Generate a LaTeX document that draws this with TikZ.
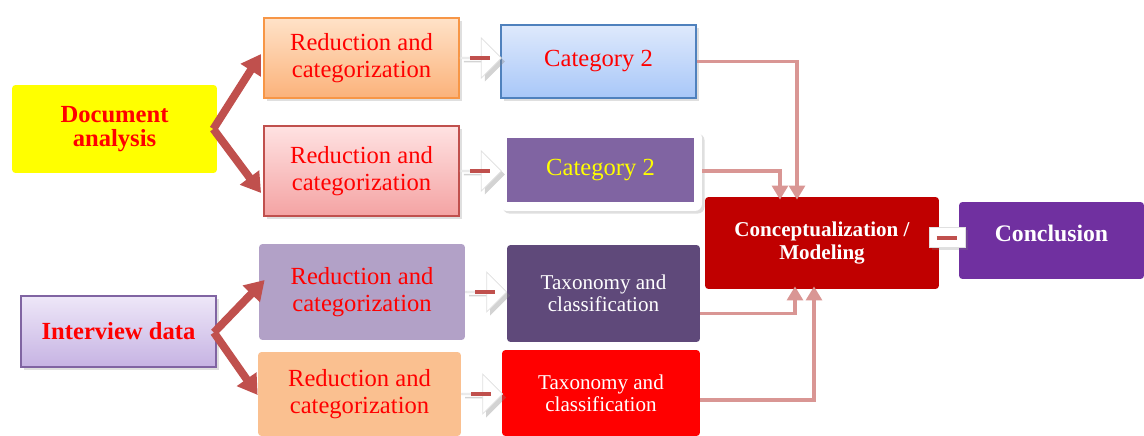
\documentclass[tikz,border=0pt]{standalone}
\usepackage{fontspec}
\setmainfont{Liberation Serif}
\usetikzlibrary{calc, shapes.arrows, arrows.meta, shadows}

\definecolor{arrowred}{HTML}{C0504D}
\definecolor{feedpink}{HTML}{D99694}
\definecolor{docyellow}{HTML}{FFFF00}
\definecolor{inttop}{HTML}{EEE7F8}
\definecolor{intbot}{HTML}{C6B3E3}
\definecolor{intborder}{HTML}{8064A2}
\definecolor{orangetop}{HTML}{FFE2C8}
\definecolor{orangebot}{HTML}{FBB27A}
\definecolor{orangeborder}{HTML}{F79646}
\definecolor{pinktop}{HTML}{FFE2E2}
\definecolor{pinkbot}{HTML}{F4A3A3}
\definecolor{blueborder}{HTML}{4F81BD}
\definecolor{bluetop}{HTML}{DEE9FC}
\definecolor{bluebot}{HTML}{A8C7F8}
\definecolor{lilac}{HTML}{B2A1C7}
\definecolor{apricot}{HTML}{FAC090}
\definecolor{violet}{HTML}{8064A2}
\definecolor{plum}{HTML}{5F497A}
\definecolor{conceptred}{HTML}{C00000}
\definecolor{conclpurple}{HTML}{7030A0}

\begin{document}
\begin{tikzpicture}[x=0.02cm, y=-0.02cm,
        redtext/.style={text=red, align=center, font=\fontsize{14}{15.5}\selectfont},
        whitetext/.style={text=white, align=center, font=\fontsize{12}{12.5}\selectfont},
        srcbox/.style={text=red, align=center, font=\fontsize{14}{14}\selectfont\bfseries},
        boxshadow/.style={drop shadow={opacity=0.25, shadow xshift=1.5pt, shadow yshift=-1.5pt}},
        bigarrow/.style={draw=arrowred, line width=4.5pt, -{Triangle[length=11pt, width=13pt]}},
        feedline/.style={draw=feedpink, line width=2.2pt, -{Triangle[length=8pt, width=9pt]}},
        blockarrow/.style={single arrow, fill=white, draw=black!12, line width=0.4pt,
            drop shadow={opacity=0.35, shadow xshift=2pt, shadow yshift=-2pt},
            inner sep=0pt, minimum height=0.82cm, minimum width=0.8cm,
            single arrow head extend=0.18cm, anchor=tail},
        dashmark/.style={draw=arrowred, line width=2.2pt}
    ]
        \useasboundingbox (0,0) rectangle (1144,436);

        % sources
        \node[srcbox, fill=docyellow, rounded corners=2pt, minimum width=4.1cm, minimum height=1.76cm]
            (doc) at (114.5,129) {Document\\analysis};
        \node[srcbox, draw=intborder, line width=1.1pt, top color=inttop, bottom color=intbot, boxshadow,
            minimum width=3.9cm, minimum height=1.42cm] (inter) at (118.5,331.5) {Interview data};

        % reduction
        \node[redtext, draw=orangeborder, line width=1.1pt, top color=orangetop, bottom color=orangebot,
            boxshadow, minimum width=3.9cm, minimum height=1.6cm] (r1) at (361.5,58) {Reduction and\\categorization};
        \node[redtext, draw=arrowred, line width=1.1pt, top color=pinktop, bottom color=pinkbot,
            boxshadow, minimum width=3.9cm, minimum height=1.8cm] (r2) at (361.5,171) {Reduction and\\categorization};
        \node[redtext, fill=lilac, rounded corners=2pt, minimum width=4.12cm, minimum height=1.92cm]
            (r3) at (362,292) {Reduction and\\categorization};
        \node[redtext, fill=apricot, rounded corners=2pt, minimum width=4.06cm, minimum height=1.68cm]
            (r4) at (359.5,394) {Reduction and\\categorization};

        % categories
        \node[redtext, draw=blueborder, line width=1.1pt, top color=bluetop, bottom color=bluebot,
            boxshadow, minimum width=3.9cm, minimum height=1.46cm] (c1) at (598.5,61.5) {Category 2};
        \node[fill=white, rounded corners=4pt, boxshadow, minimum width=4.04cm, minimum height=1.6cm]
            (c2frame) at (601,171) {};
        \node[redtext, text=docyellow, fill=violet, minimum width=3.74cm, minimum height=1.28cm]
            (c2) at (600.5,170) {Category 2};
        \node[whitetext, fill=plum, rounded corners=2pt, minimum width=3.86cm, minimum height=1.94cm]
            (t1) at (603.5,293.5) {Taxonomy and\\classification};
        \node[whitetext, fill=red, rounded corners=2pt, minimum width=3.96cm, minimum height=1.72cm]
            (t2) at (601,393) {Taxonomy and\\classification};

        % end
        \node[whitetext, font=\fontsize{12}{13.6}\selectfont\bfseries, fill=conceptred, rounded corners=2pt,
            minimum width=4.68cm, minimum height=1.84cm] (concept) at (822,243) {Conceptualization /\\Modeling};
        \node[whitetext, font=\fontsize{13.5}{14}\selectfont\bfseries, fill=conclpurple, rounded corners=2pt,
            minimum width=3.7cm, minimum height=1.54cm] (conc) at (1051.5,240.5) {\raisebox{8pt}{Conclusion}};

        % split arrows
        \draw[bigarrow] ($(doc.east)+(-4,0)$) -- ($(r1.west)+(-2,-4)$);
        \draw[bigarrow] ($(doc.east)+(-4,0)$) -- ($(r2.west)+(-2,22)$);
        \draw[bigarrow] ($(inter.east)+(-3,1)$) -- ($(r3.west)+(6,-12)$);
        \draw[bigarrow] ($(inter.east)+(-3,1)$) -- ($(r4.west)+(0,1)$);

        % white arrows
        \node[blockarrow] (a1) at (r1.east) {};
        \node[blockarrow] (a2) at (r2.east) {};
        \node[blockarrow] (a3) at (r3.east) {};
        \node[blockarrow] (a4) at (r4.east) {};
        \foreach \a in {a1,a2,a3,a4}
            \draw[dashmark] ($(\a.tail)+(10,0)$) -- ($(\a.tip)+(-12,0)$);

        % into the model
        \draw[feedline] (c1.east) -| ($(concept.north)+(-25,3)$);
        \draw[feedline] (c2frame.east) -| ($(concept.north)+(-42,3)$);
        \draw[feedline] ($(t1.east)+(0,20)$) -| ($(concept.south)+(-27,-3)$);
        \draw[feedline] ($(t2.east)+(0,7)$) -| ($(concept.south)+(-8,-3)$);

        \node[fill=white, draw=black!12, line width=0.4pt, boxshadow, inner sep=0pt,
            minimum width=0.72cm, minimum height=0.4cm]
            (bridge) at ($(concept.east)!0.5!(conc.west)+(-2,-4)$) {};
        \draw[dashmark] ($(bridge.west)+(8,0)$) -- ($(bridge.east)+(-8,0)$);

    \end{tikzpicture}
\end{document}
